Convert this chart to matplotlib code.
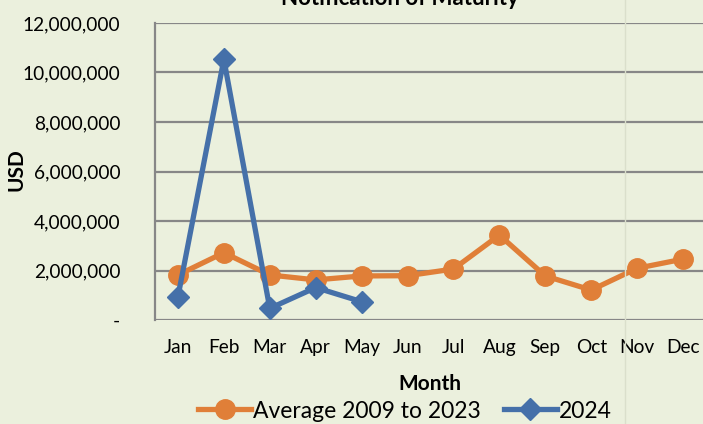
import matplotlib.pyplot as plt
from matplotlib.lines import Line2D
from matplotlib.ticker import FuncFormatter

plt.rcParams['font.family'] = ['Lato', 'DejaVu Sans']

months = ['Jan', 'Feb', 'Mar', 'Apr', 'May', 'Jun', 'Jul', 'Aug', 'Sep', 'Oct', 'Nov', 'Dec']
avg_2009_2023 = [1820000, 2720000, 1820000, 1620000, 1780000, 1790000, 2060000, 3430000,
                 1780000, 1210000, 2090000, 2460000]
months_2024 = ['Jan', 'Feb', 'Mar', 'Apr', 'May']
y2024 = [940000, 10530000, 470000, 1310000, 740000]

bg = '#ebf0dd'
orange = '#e07f38'
blue = '#4570a9'

fig = plt.figure(figsize=(7.03, 4.24), dpi=100, facecolor=bg)
ax = fig.add_axes([155 / 703, 1 - 320 / 424, 551 / 703, 297 / 424])
ax.set_facecolor(bg)

x_all = list(range(len(months)))
x_24 = [months.index(m) for m in months_2024]

ax.plot(x_all, avg_2009_2023, color=orange, lw=3.8, marker='o', ms=14,
        label='Average 2009 to 2023', zorder=3)
ax.plot(x_24, y2024, color=blue, lw=3.8, marker='D', ms=11,
        label='2024', zorder=4)

ax.set_xlim(-0.5, 11.5)
ax.set_ylim(0, 12000000)
ax.set_yticks(range(0, 12000001, 2000000))
ax.yaxis.set_major_formatter(FuncFormatter(lambda v, _: '-' if v == 0 else f'{v:,.0f}'))
ax.set_xticks(x_all)
ax.set_xticklabels(months)
ax.tick_params(axis='both', length=0, labelsize=13.8)
ax.tick_params(axis='y', pad=25)
ax.tick_params(axis='x', pad=14)

ax.grid(axis='y', color='#878787', lw=1.6)
ax.set_axisbelow(True)
for s in ['top', 'right']:
    ax.spines[s].set_visible(False)
ax.spines['left'].set_color('#878787')
ax.spines['left'].set_linewidth(1.6)
ax.spines['bottom'].set_visible(False)

# title sits partly above the top edge, as in the source image
fig.text(400 / 703, 1 - 5 / 424, 'Notification of Maturity', ha='center', va='baseline',
         fontsize=16, fontweight='bold')
fig.text(17 / 703, 1 - 170 / 424, 'USD', rotation=90, ha='center', va='center',
         fontsize=15, fontweight='bold')
fig.text(430 / 703, 1 - 384 / 424, 'Month', ha='center', va='center',
         fontsize=15, fontweight='bold')

# faint vertical border line from the source layout
fig.add_artist(Line2D([625 / 703, 625 / 703], [0, 1], color='#dadfcb', lw=1))

handles = [Line2D([0], [0], color=orange, lw=3.8, marker='o', ms=14),
           Line2D([0], [0], color=blue, lw=3.8, marker='D', ms=11)]
fig.legend(handles, ['Average 2009 to 2023', '2024'], loc='center',
           bbox_to_anchor=(405 / 703, 1 - 411 / 424), ncol=2, frameon=False,
           fontsize=16.5, handlelength=2.3, handletextpad=0.1, columnspacing=1.0,
           borderpad=0)

fig.savefig('out.png', dpi=100, facecolor=bg)
